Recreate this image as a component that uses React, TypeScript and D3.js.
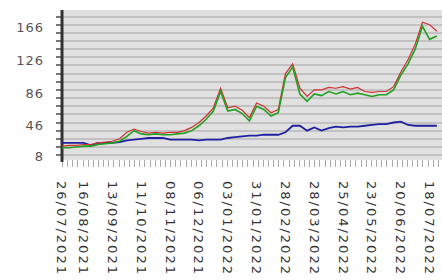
import React, { useEffect, useRef } from 'react';
import * as d3 from 'd3';

// weekly sample dates, starting 26/07/2021
const startDate = '2021-07-26';
const closeValues = [
  19, 19, 20, 21, 21, 23, 24, 25, 27, 33, 40, 36, 35, 36, 35, 35, 36, 37, 40, 46,
  54, 64, 88, 64, 66, 61, 52, 70, 66, 58, 62, 105, 118, 85, 76, 85, 83, 88, 85, 88,
  84, 86, 84, 82, 84, 84, 90, 108, 122, 140, 168, 152, 156,
];
const highValues = [
  21, 22, 22, 23, 23, 25, 26, 27, 30, 38, 42, 39, 37, 38, 37, 38, 38, 40, 44, 50,
  58, 68, 92, 68, 70, 65, 56, 74, 70, 62, 66, 110, 122, 92, 82, 90, 90, 93, 92, 94,
  91, 93, 88, 87, 88, 88, 94, 112, 127, 146, 173, 170, 162,
];
const indexValues = [
  25, 25, 25, 25, 22, 25, 25, 25, 26, 28, 29, 30, 31, 31, 31, 29, 29, 29, 29, 28,
  29, 29, 29, 31, 32, 33, 34, 34, 35, 35, 35, 38, 46, 46, 40, 44, 40, 43, 45, 44,
  45, 45, 46, 47, 48, 48, 50, 51, 47, 46, 46, 46, 46,
];
const tickLabels = [
  '26/07/2021', '16/08/2021', '13/09/2021', '11/10/2021', '08/11/2021', '06/12/2021',
  '03/01/2022', '31/01/2022', '28/02/2022', '28/03/2022', '25/04/2022', '23/05/2022',
  '20/06/2022', '18/07/2022',
];
const yTicks = [8, 46, 86, 126, 166];

const parseDmy = d3.timeParse('%d/%m/%Y');

const App: React.FC = () => {
  const svgRef = useRef<SVGSVGElement>(null);

  useEffect(() => {
    if (!svgRef.current) return;
    const W = 442;
    const left = 62, top = 10, bottom = 160;

    const svg = d3.select(svgRef.current);
    svg.selectAll('*').remove();

    const t0 = d3.timeParse('%Y-%m-%d')(startDate) as Date;
    const dates = closeValues.map((_, i) => d3.timeDay.offset(t0, i * 7));

    const x = d3.scaleTime()
      .domain([t0, d3.timeDay.offset(t0, 369)])
      .range([left, W]);
    const y = d3.scaleLinear().domain([4, 188]).range([bottom, top]);

    // plot background + stripes
    svg.append('rect')
      .attr('x', left).attr('y', top)
      .attr('width', W - left).attr('height', bottom - top)
      .attr('fill', '#e0e0e0');

    const grid = d3.range(10, 190, 10);
    svg.append('g').selectAll('line')
      .data(grid).enter().append('line')
      .attr('x1', left).attr('x2', W)
      .attr('y1', d => Math.round(y(d))).attr('y2', d => Math.round(y(d)))
      .attr('stroke', '#c2c2c2').attr('stroke-width', 2);

    // left minor ticks
    svg.append('g').selectAll('line')
      .data(grid).enter().append('line')
      .attr('x1', 56).attr('x2', left)
      .attr('y1', d => Math.round(y(d))).attr('y2', d => Math.round(y(d)))
      .attr('stroke', '#777').attr('stroke-width', 2);

    // bottom ticks
    const tickDates = d3.range(0, 370, 5).map(d => d3.timeDay.offset(t0, d));
    svg.append('g').selectAll('line')
      .data(tickDates).enter().append('line')
      .attr('x1', d => Math.round(x(d)) + 0.5).attr('x2', d => Math.round(x(d)) + 0.5)
      .attr('y1', bottom).attr('y2', bottom + 7)
      .attr('stroke', '#aaa').attr('stroke-width', 1);

    // left axis line
    svg.append('line')
      .attr('x1', left).attr('x2', left)
      .attr('y1', top).attr('y2', bottom + 2)
      .attr('stroke', '#333').attr('stroke-width', 3);

    // y labels
    svg.append('g').selectAll('text')
      .data(yTicks).enter().append('text')
      .attr('x', 44).attr('y', d => y(d))
      .attr('dy', '0.35em')
      .attr('text-anchor', 'end')
      .attr('font-family', 'DejaVu Sans, sans-serif')
      .attr('font-size', 13)
      .attr('letter-spacing', 1)
      .attr('fill', '#555')
      .text(d => String(d));

    // x labels (rotated)
    svg.append('g').selectAll('text')
      .data(tickLabels).enter().append('text')
      .attr('transform', d => `translate(${x(parseDmy(d) as Date)},181) rotate(90)`)
      .attr('dy', '0.35em')
      .attr('font-family', 'DejaVu Sans, sans-serif')
      .attr('font-size', 13)
      .attr('letter-spacing', 2)
      .attr('fill', '#333')
      .text(d => d);

    svg.append('clipPath').attr('id', 'plotclip')
      .append('rect').attr('x', left).attr('y', top)
      .attr('width', W - left).attr('height', bottom - top);

    const g = svg.append('g').attr('clip-path', 'url(#plotclip)');

    const line = (vals: number[]) => d3.line<number>()
      .x((_, i) => x(dates[i]))
      .y(d => y(d))(vals);

    g.append('path').attr('d', line(indexValues) as string)
      .attr('fill', 'none').attr('stroke', '#2020a0').attr('stroke-width', 1.8);
    g.append('path').attr('d', line(highValues) as string)
      .attr('fill', 'none').attr('stroke', '#d03030').attr('stroke-width', 1.2);
    g.append('path').attr('d', line(closeValues) as string)
      .attr('fill', 'none').attr('stroke', '#20a020').attr('stroke-width', 1.6);
  }, []);

  return (
    <svg ref={svgRef} width={442} height={280}
      style={{ position: 'absolute', left: 0, top: 0, background: '#fff' }} />
  );
};

export default App;
